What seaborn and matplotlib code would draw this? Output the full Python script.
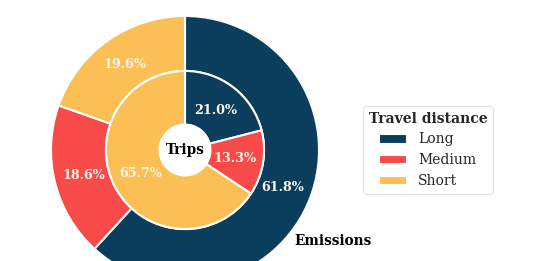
import matplotlib
matplotlib.use("Agg")
import matplotlib.pyplot as plt
import seaborn as sns

categories = ["Long", "Medium", "Short"]
emissions = [61.8, 18.6, 19.6]
trips = [21.0, 13.3, 65.7]
colors = ["#0b3d5c", "#f94a4a", "#fbbf55"]

sns.set_theme(style="white")
plt.rcParams["font.family"] = ["DejaVu Serif"]

fig = plt.figure(figsize=(5.33, 2.61), dpi=100)
ax = fig.add_axes([0, 0, 1, 1])

R = 1.0
outer_w = 0.41
inner_r = 0.59
inner_w = 0.40

wedges_out, _, autotexts_out = ax.pie(
    emissions, radius=R, colors=colors, startangle=90, counterclock=False,
    autopct="%1.1f%%", pctdistance=0.78,
    wedgeprops=dict(width=outer_w, edgecolor="white", linewidth=1.5),
)
wedges_in, _, autotexts_in = ax.pie(
    trips, radius=inner_r, colors=colors, startangle=90, counterclock=False,
    autopct="%1.1f%%", pctdistance=0.64,
    wedgeprops=dict(width=inner_w, edgecolor="white", linewidth=1.5),
)
for t in autotexts_out + autotexts_in:
    t.set_color("#fdf6ea")
    t.set_fontweight("bold")
    t.set_fontsize(9.2)

ax.text(0, 0, "Trips", ha="center", va="center", fontsize=9.8, fontweight="bold", color="black")
ax.text(1.104, -0.679, "Emissions", ha="center", va="center", fontsize=9.8, fontweight="bold", color="black")

ax.set_aspect("auto")
ax.set_xlim(-185 / 134, (533 - 185) / 134)
ax.set_ylim((150 - 261) / 134, 150 / 134)
ax.axis("off")

leg = fig.legend(
    wedges_out, categories, title="Travel distance",
    loc="upper left", bbox_to_anchor=(363 / 533, 1 - 106 / 261),
    borderaxespad=0, fontsize=10, title_fontproperties={"weight": "bold", "size": 10},
    frameon=True, edgecolor="#dddddd",
)
leg.get_frame().set_linewidth(0.8)

fig.savefig("out.png", dpi=100, facecolor="white")
